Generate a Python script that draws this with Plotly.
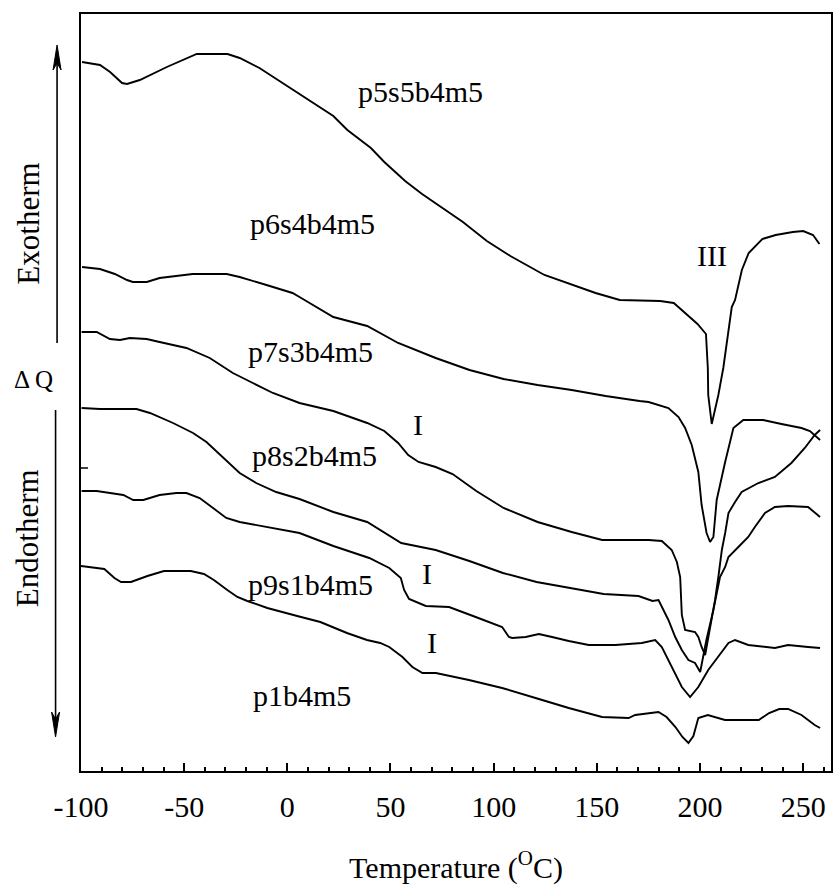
import plotly.graph_objects as go

# ---------------- data (Temperature in °C, heat flow in arbitrary offset units) -------------
tick_vals = [-100, -50, 0, 50, 100, 150, 200, 250]
tick_text = ["-100", "-50", "0", "50", "100", "150", "200", "250"]

t_p5s5 = [-99.5, -90.8, -85.9, -80.1, -77.7, -71.5, -58.4, -43.9, -29.0, -23.1, -13.5, -2.3, 5.9, 12.4,
          22.3, 29.1, 40.5, 47.0, 57.1, 65.3, 75.0, 85.1, 96.7, 108.1, 124.6, 137.8, 149.4, 161.1,
          180.7, 187.3, 198.8, 202.9, 203.8, 204.0, 205.7, 208.9, 211.3, 215.4, 217.0, 220.3, 223.6,
          230.2, 236.7, 245.0, 250.0, 254.8, 257.9]
q_p5s5 = [709, 706, 699, 688, 687, 691, 704, 717, 717, 713, 703, 688, 677, 669,
          655, 641, 623, 609, 590, 577, 563, 549, 530, 515, 496, 486, 478, 471,
          470, 468, 447, 437, 403, 376, 347, 376, 403, 464, 471, 501, 518,
          532, 536, 539, 540, 536, 527]

t_p6s4 = [-99.5, -90.8, -83.6, -77.7, -74.9, -68.1, -61.9, -45.9, -29.4, -23.1, -10.1, 2.5, 5.9,
          22.3, 38.7, 48.8, 53.7, 71.9, 88.3, 104.8, 121.3, 137.8, 154.3, 170.7, 175.1, 184.7,
          189.6, 192.8, 196.0, 199.2, 200.8, 203.2, 204.9, 206.5, 208.1, 212.2, 216.2, 221.0,
          230.6, 239.5, 249.2, 253.3, 258.2]
q_p6s4 = [504, 502, 497, 491, 489, 489, 493, 497, 497, 494, 486, 478, 474,
          454, 445, 433, 428, 413, 401, 392, 386, 381, 375, 370, 369, 363,
          354, 343, 326, 299, 266, 238, 229, 234, 271, 309, 343, 351,
          351, 347, 343, 340, 331]

t_p7s3 = [-99.7, -92.4, -86.0, -81.1, -76.3, -68.2, -61.9, -48.9, -37.6, -26.4, -16.7, -7.0, 5.9,
          22.3, 38.7, 47.0, 53.7, 58.6, 63.6, 71.9, 80.1, 91.6, 104.8, 121.3, 137.8, 152.6,
          175.1, 181.5, 186.3, 188.8, 190.4, 191.2, 192.8, 197.6, 199.2, 200.8, 202.5,
          207.3, 208.9, 210.6, 212.2, 213.8, 217.0, 220.2, 228.3, 236.3, 244.3, 250.8, 255.6, 258.2]
q_p7s3 = [439, 439, 432, 431, 433, 432, 429, 423, 413, 398, 388, 378, 368,
          360, 348, 340, 328, 316, 309, 304, 297, 280, 263, 249, 239, 231,
          231, 230, 221, 209, 194, 156, 141, 139, 134, 124, 116,
          171, 194, 221, 238, 258, 269, 279, 288, 294, 308, 323, 336, 341]

t_p8s2 = [-99.7, -90.8, -73.1, -66.6, -55.4, -45.7, -39.2, -29.6, -23.1, -15.1, -5.4, 5.9,
          22.3, 38.7, 48.8, 55.2, 71.9, 88.2, 104.5, 120.8, 137.1, 153.3, 170.2, 177.0, 179.9,
          181.5, 184.7, 188.0, 191.2, 194.4, 197.6, 200.1, 203.1, 206.5, 208.9, 209.7, 212.2,
          213.8, 218.6, 223.4, 226.6, 231.5, 236.3, 242.7, 252.4, 255.6, 258.2]
q_p8s2 = [363, 362, 362, 358, 348, 338, 329, 311, 298, 288, 279, 272,
          259, 249, 236, 228, 221, 210, 198, 189, 183, 177, 175, 170, 171,
          164, 151, 134, 121, 111, 108, 99, 131, 161, 188, 194, 204,
          214, 224, 234, 244, 258, 264, 265, 264, 258, 254]

t_p9s1 = [-99.7, -92.4, -85.9, -79.5, -74.7, -69.8, -61.9, -53.8, -48.9, -42.5, -36.0, -29.6, -23.1,
          -10.2, 5.9, 22.3, 39.7, 49.4, 55.0, 56.6, 59.0, 67.1, 78.4, 91.3, 104.1, 107.4, 109.0,
          115.5, 121.9, 128.3, 136.4, 146.1, 159.0, 171.8, 178.3, 181.5, 184.7, 188.0, 191.2,
          195.2, 199.2, 204.0, 208.9, 213.8, 217.0, 223.4, 236.3, 242.7, 252.4, 258.2]
q_p9s1 = [280, 280, 278, 276, 271, 271, 276, 278, 278, 273, 263, 253, 249,
          244, 238, 225, 213, 203, 193, 181, 172, 165, 164, 154, 144, 134, 133,
          134, 137, 134, 130, 126, 126, 128, 131, 124, 111, 98, 84,
          74, 84, 101, 114, 128, 131, 126, 123, 126, 124, 123]

t_p1 = [-100.0, -88.7, -83.8, -80.6, -75.8, -67.8, -59.8, -46.8, -40.4, -35.6, -29.1, -24.2, -19.4,
        -9.7, 4.8, 16.0, 28.9, 38.6, 45.0, 49.4, 55.8, 60.6, 65.5, 72.0, 88.0, 104.1, 120.3,
        136.4, 152.5, 165.4, 168.6, 179.9, 183.8, 188.1, 191.5, 194.4, 196.8, 199.2, 203.8,
        212.1, 228.5, 233.5, 238.4, 242.7, 249.2, 255.6, 258.2]
q_p1 = [205, 202, 193, 189, 189, 195, 200, 200, 197, 191, 181, 174, 170,
        163, 155, 149, 138, 131, 128, 124, 114, 104, 98, 98, 91, 83, 73,
        63, 54, 53, 56, 59, 54, 44, 34, 28, 35, 53, 56,
        51, 51, 58, 62, 62, 56, 46, 43]

curves = [(t_p5s5, q_p5s5), (t_p6s4, q_p6s4), (t_p7s3, q_p7s3),
          (t_p8s2, q_p8s2), (t_p9s1, q_p9s1), (t_p1, q_p1)]

# curve labels: (text, temperature, heat-flow position)
labels = [("p5s5b4m5", 64.4, 680), ("p6s4b4m5", 12.1, 548), ("p7s3b4m5", 11.2, 420),
          ("p8s2b4m5", 13.1, 316), ("p9s1b4m5", 11.2, 187), ("p1b4m5", 7.3, 76),
          ("III", 206.0, 516), ("I", 63.2, 347), ("I", 67.8, 198), ("I", 69.9, 129)]

# ---------------- figure -------------------------------------------------------------------
W, H = 835, 885
ML, MR, MT, MB = 81, 2, 14, 114
PW, PH = W - ML - MR, H - MT - MB
FONT = "Liberation Serif, Times New Roman, serif"


def px(xp):
    return (xp - ML) / PW


def py(yp):
    return (H - MB - yp) / PH


fig = go.Figure()
for t, q in curves:
    fig.add_trace(go.Scatter(x=t, y=q, mode="lines", line=dict(color="black", width=1.9),
                             showlegend=False, hoverinfo="skip"))

for txt, tx, ty in labels:
    fig.add_annotation(x=tx, y=ty, xref="x", yref="y", text=txt, showarrow=False,
                       xanchor="center", yanchor="middle",
                       font=dict(family=FONT, size=30, color="black"))

# side annotations
fig.add_annotation(x=px(27.5), y=py(224), xref="paper", yref="paper", text="Exotherm",
                   textangle=-90, showarrow=False, xanchor="center", yanchor="middle",
                   font=dict(family=FONT, size=31, color="black"))
fig.add_annotation(x=px(27), y=py(538), xref="paper", yref="paper", text="Endotherm",
                   textangle=-90, showarrow=False, xanchor="center", yanchor="middle",
                   font=dict(family=FONT, size=31, color="black"))
fig.add_annotation(x=px(33), y=py(379), xref="paper", yref="paper", text="Δ Q",
                   showarrow=False, xanchor="center", yanchor="middle",
                   font=dict(family=FONT, size=25, color="black"))

shapes = []
# up arrow
shapes.append(dict(type="line", xref="paper", yref="paper", x0=px(57), x1=px(57), y0=py(343), y1=py(55),
                   line=dict(color="black", width=1.6)))
shapes.append(dict(type="path", xref="paper", yref="paper",
                   path=f"M {px(57)},{py(45)} L {px(53)},{py(70)} L {px(57)},{py(63)} L {px(61)},{py(70)} Z",
                   fillcolor="black", line=dict(color="black", width=1)))
# down arrow
shapes.append(dict(type="line", xref="paper", yref="paper", x0=px(55.5), x1=px(55.5), y0=py(410), y1=py(727),
                   line=dict(color="black", width=1.6)))
shapes.append(dict(type="path", xref="paper", yref="paper",
                   path=f"M {px(55.5)},{py(737)} L {px(51.5)},{py(712)} L {px(55.5)},{py(719)} L {px(59.5)},{py(712)} Z",
                   fillcolor="black", line=dict(color="black", width=1)))
# small tick on left frame
shapes.append(dict(type="line", xref="paper", yref="paper", x0=px(81), x1=px(88), y0=py(468), y1=py(468),
                   line=dict(color="black", width=1.5)))

fig.update_layout(
    width=W, height=H,
    margin=dict(l=ML, r=MR, t=MT, b=MB),
    paper_bgcolor="white", plot_bgcolor="white",
    shapes=shapes,
    font=dict(family=FONT, color="black"),
    xaxis=dict(range=[-100, 263.5], tickmode="array", tickvals=tick_vals, ticktext=tick_text,
               ticks="inside", ticklen=8, tickwidth=1.5, tickcolor="black",
               minor=dict(tickmode="linear", tick0=-100, dtick=10, ticks="inside", ticklen=4.5,
                          tickwidth=1.5, tickcolor="black", showgrid=False),
               showline=True, linecolor="black", linewidth=1.6, mirror=True,
               showgrid=False, zeroline=False, ticklabelstandoff=8,
               tickfont=dict(family=FONT, size=30, color="black"),
               title=dict(text="Temperature (<sup>O</sup>C)", standoff=36,
                          font=dict(family=FONT, size=30, color="black"))),
    yaxis=dict(range=[0, PH], showticklabels=False, ticks="", showline=True, linecolor="black",
               linewidth=1.6, mirror=True, showgrid=False, zeroline=False),
)

fig.write_html("out.html")
